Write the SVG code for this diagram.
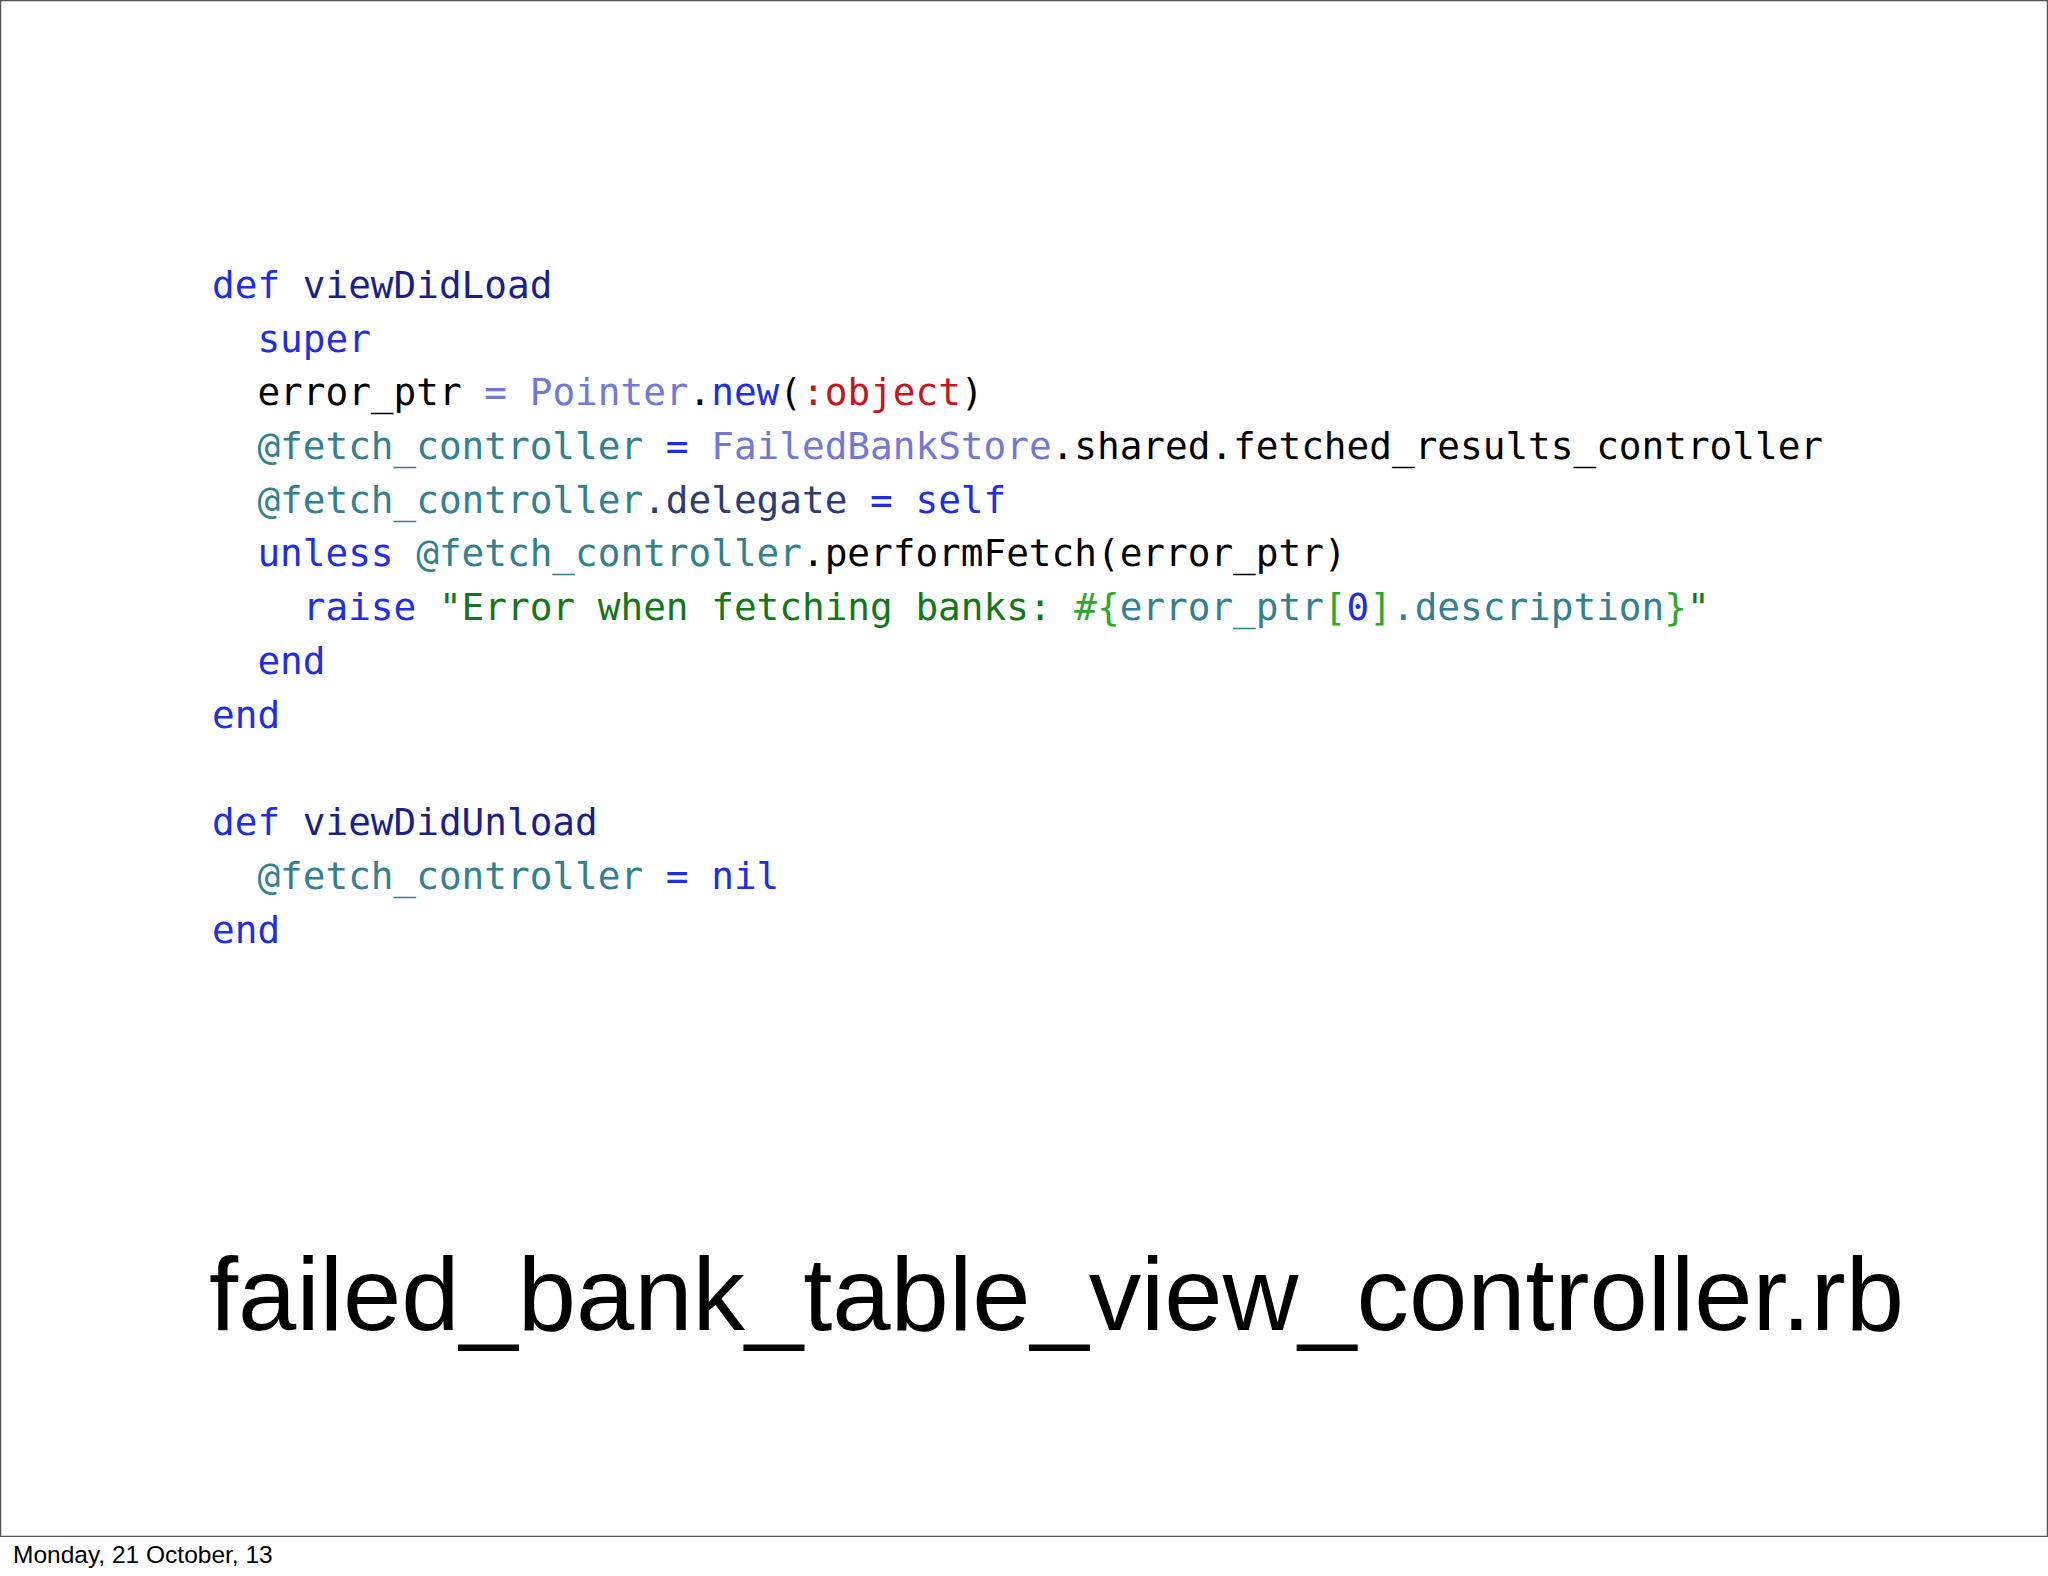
<svg xmlns="http://www.w3.org/2000/svg" width="2048" height="1576" viewBox="0 0 2048 1576">
<style>
.c{font-family:"DejaVu Sans Mono",monospace;font-size:37.7px;white-space:pre;fill:#000}
.k{fill:#1f2ee0}.n{fill:#1a1f8c}.iv{fill:#33808e}.cl{fill:#7378d6}.sy{fill:#c4161c}.m{fill:#2e3a72}.s{fill:#13761a}.g{fill:#2ca82c}
</style>
<rect x="0.5" y="0.5" width="2047" height="1536" fill="#fff" stroke="#555" stroke-width="1.5"/>
<rect x="0" y="1537" width="2048" height="39" fill="#fff"/>
<g id="code">
<text class="c" x="212" y="298"><tspan class="k">def</tspan> <tspan class="n">viewDidLoad</tspan></text>
<text class="c" x="212" y="352">  <tspan class="k">super</tspan></text>
<text class="c" x="212" y="405">  error_ptr <tspan class="cl">=</tspan> <tspan class="cl">Pointer</tspan>.<tspan class="k">new</tspan>(<tspan class="sy">:object</tspan>)</text>
<text class="c" x="212" y="459">  <tspan class="iv">@fetch_controller</tspan> <tspan class="k">=</tspan> <tspan class="cl">FailedBankStore</tspan>.shared.fetched_results_controller</text>
<text class="c" x="212" y="513">  <tspan class="iv">@fetch_controller</tspan><tspan class="m">.delegate</tspan> <tspan class="k">=</tspan> <tspan class="k">self</tspan></text>
<text class="c" x="212" y="566">  <tspan class="k">unless</tspan> <tspan class="iv">@fetch_controller</tspan>.performFetch(error_ptr)</text>
<text class="c" x="212" y="620">    <tspan class="k">raise</tspan> <tspan class="s">"Error when fetching banks: </tspan><tspan class="g">#{</tspan><tspan class="iv">error_ptr</tspan><tspan class="g">[</tspan><tspan class="k">0</tspan><tspan class="g">]</tspan><tspan class="iv">.description</tspan><tspan class="g">}</tspan><tspan class="s">"</tspan></text>
<text class="c" x="212" y="674">  <tspan class="k">end</tspan></text>
<text class="c" x="212" y="728"><tspan class="k">end</tspan></text>
<text class="c" x="212" y="835"><tspan class="k">def</tspan> <tspan class="n">viewDidUnload</tspan></text>
<text class="c" x="212" y="889">  <tspan class="iv">@fetch_controller</tspan> <tspan class="k">=</tspan> <tspan class="k">nil</tspan></text>
<text class="c" x="212" y="943"><tspan class="k">end</tspan></text>
</g>
<g id="title">
<text x="209" y="1330" font-family="Liberation Sans, sans-serif" font-size="104" textLength="1695" lengthAdjust="spacingAndGlyphs" fill="#000">failed_bank_table_view_controller.rb</text>
</g>
<g id="footer">
<text x="13" y="1563" font-family="Liberation Sans, sans-serif" font-size="24.5" fill="#000">Monday, 21 October, 13</text>
</g>
</svg>
